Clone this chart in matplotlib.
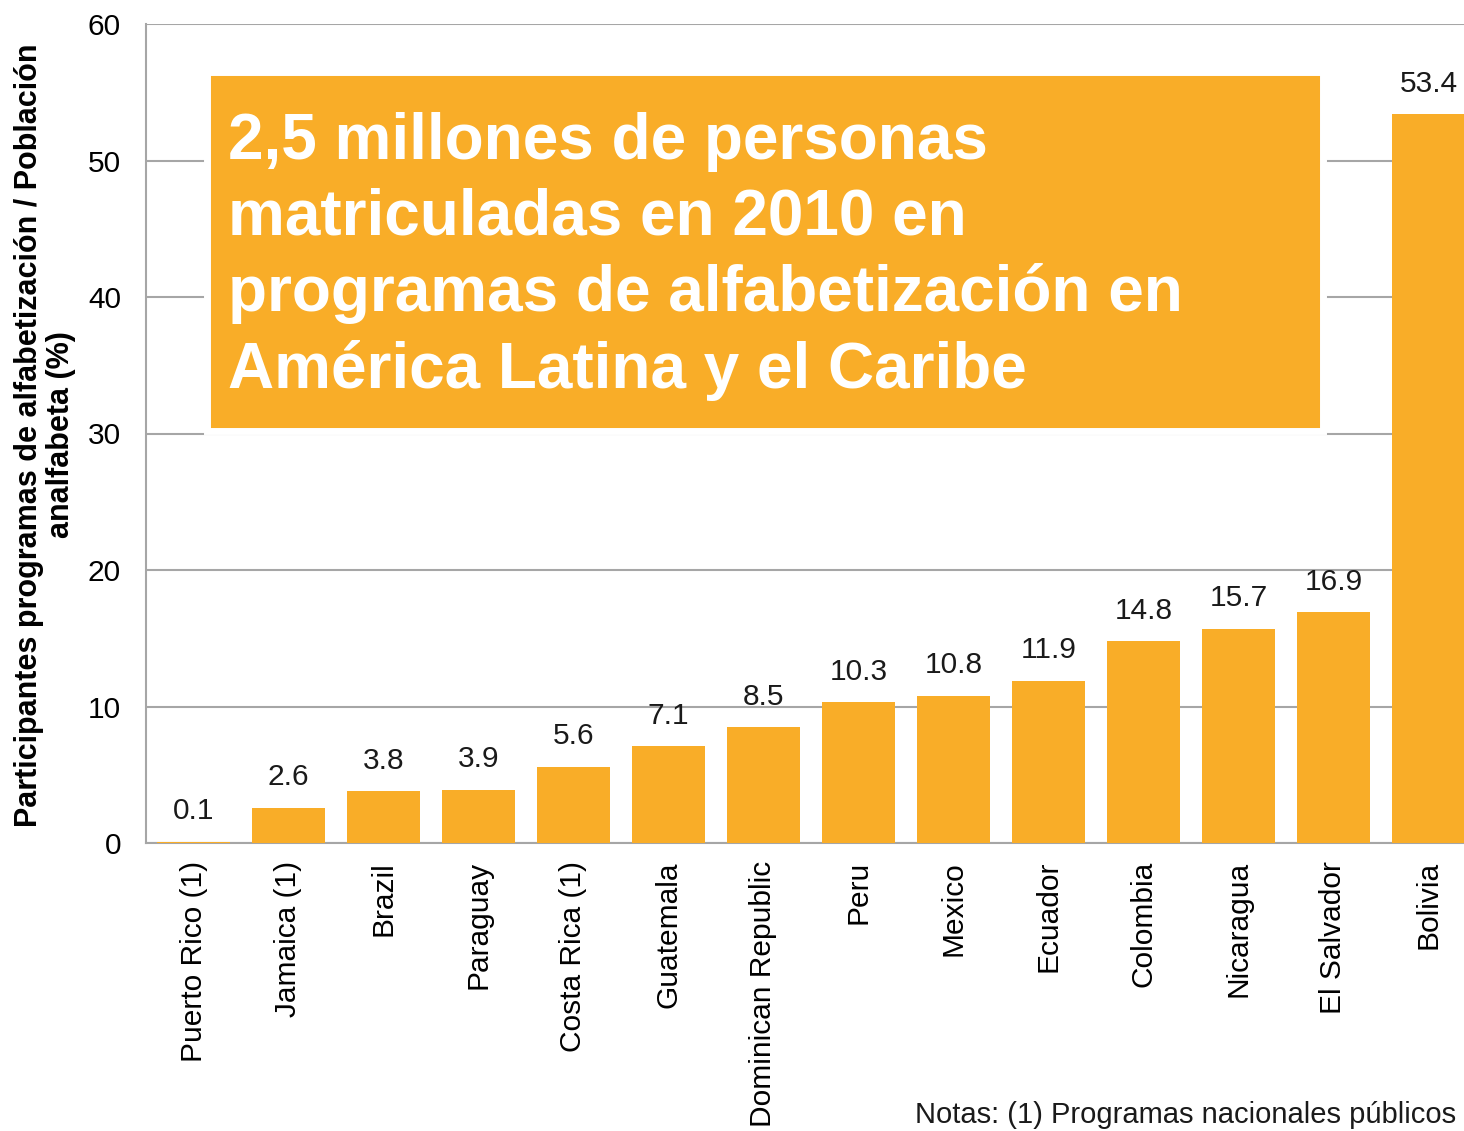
import matplotlib.pyplot as plt
import numpy as np
from matplotlib.patches import Rectangle

plt.rcParams['font.family'] = ['Liberation Sans', 'DejaVu Sans']

countries = ['Puerto Rico (1)', 'Jamaica (1)', 'Brazil', 'Paraguay', 'Costa Rica (1)',
             'Guatemala', 'Dominican Republic', 'Peru', 'Mexico', 'Ecuador',
             'Colombia', 'Nicaragua', 'El Salvador', 'Bolivia']
values = [0.1, 2.6, 3.8, 3.9, 5.6, 7.1, 8.5, 10.3, 10.8, 11.9, 14.8, 15.7, 16.9, 53.4]
yticks = [0, 10, 20, 30, 40, 50, 60]

bar_color = '#F9AD28'
grid_color = '#A6A6A6'

W, H = 1464, 1131
fig = plt.figure(figsize=(W / 100, H / 100), dpi=100)
# axes extends a bit past the right edge, like the cropped original
ax = fig.add_axes([146 / W, 1 - 843 / H, (1476 - 146) / W, (843 - 24) / H])

x = np.arange(len(countries))
ax.bar(x, values, width=0.76, color=bar_color, zorder=3)
for xi, v in zip(x, values):
    ax.text(xi, v + 1.2, f'{v:.1f}', ha='center', va='bottom', fontsize=21.5, color='#1a1a1a')

ax.set_xlim(-0.5, len(countries) - 0.5)
ax.set_ylim(0, 60)
ax.set_yticks(yticks)
ax.set_yticklabels([str(t) for t in yticks], fontsize=21.5)
ax.set_xticks(x)
ax.set_xticklabels(countries, rotation=90, fontsize=21.5)
ax.tick_params(length=0, pad=13)
ax.tick_params(axis='y', pad=18)
ax.yaxis.grid(True, color=grid_color, linewidth=1.5, zorder=0)
for s in ['top', 'right']:
    ax.spines[s].set_visible(False)
for s in ['left', 'bottom']:
    ax.spines[s].set_color(grid_color)
    ax.spines[s].set_linewidth(1.5)

fig.text(45 / W, 1 - 435 / H,
         'Participantes programas de alfabetización / Población\nanalfabeta (%)',
         rotation=90, ha='center', va='center', fontsize=22, fontweight='bold',
         linespacing=1.05)

# highlighted message box
box = Rectangle((207 / W, 1 - 431 / H), (1323 - 207) / W, (431 - 72) / H,
                transform=fig.transFigure, facecolor=bar_color, edgecolor='white',
                linewidth=5, zorder=5)
fig.patches.append(box)
fig.text(228 / W, 1 - 112 / H,
         '2,5 millones de personas\nmatriculadas en 2010 en\nprogramas de alfabetización en\nAmérica Latina y el Caribe',
         ha='left', va='top', fontsize=46, fontweight='bold', color='white',
         linespacing=1.33, zorder=6)

fig.text(915 / W, 1 - 1129 / H, 'Notas: (1) Programas nacionales públicos',
         ha='left', va='bottom', fontsize=21, color='#1a1a1a')

fig.savefig('out.png', dpi=100)
